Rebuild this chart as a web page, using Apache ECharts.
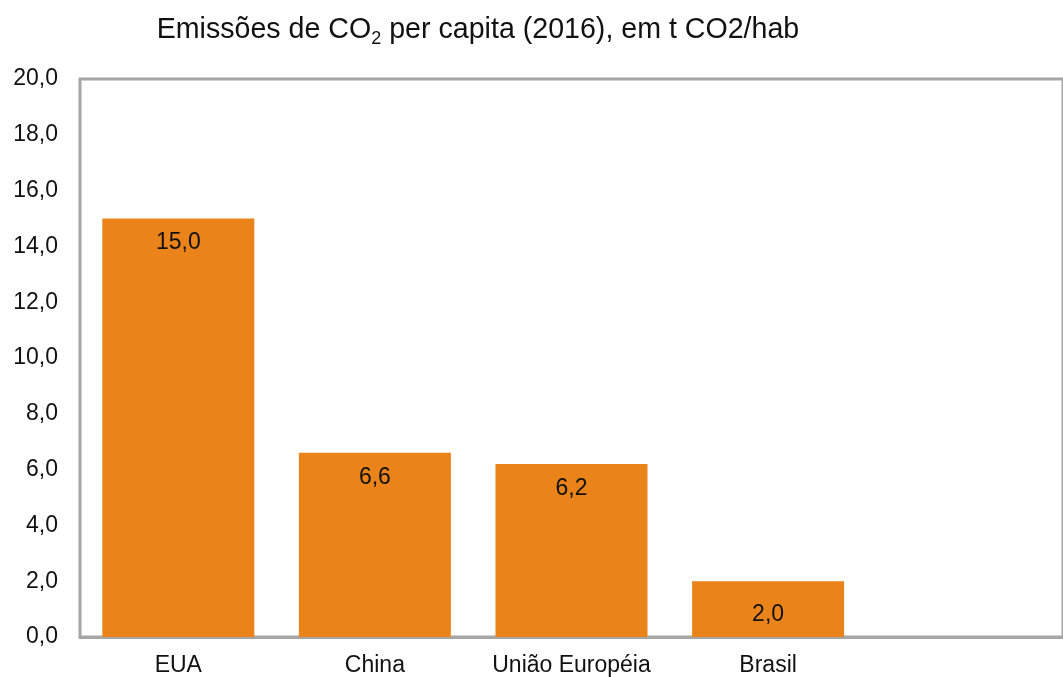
<!DOCTYPE html>
<html>
<head>
<meta charset="utf-8">
<script src="https://cdn.jsdelivr.net/npm/echarts@6/dist/echarts.min.js"></script>
<style>
  html, body { margin: 0; padding: 0; background: #fff; }
  #chart { width: 1063px; height: 677px; }
</style>
</head>
<body>
<div id="chart"></div>
<script>
// Per-capita CO2 emissions, 2016 (t CO2 per inhabitant)
const categories = ['EUA', 'China', 'União Européia', 'Brasil', ''];
const emissions = [15.0, 6.6, 6.2, 2.0, null];
const yTicks = { min: 0, max: 20, step: 2 };

const fmt = v => v.toFixed(1).replace('.', ',');
const FONT = '"Liberation Sans", Arial, sans-serif';

const chart = echarts.init(document.getElementById('chart'));
chart.setOption({
  backgroundColor: '#ffffff',
  animation: false,
  title: {
    text: '{m|Emissões de CO}{s|2}{m| per capita (2016), em t CO2/hab}',
    left: 473,
    textAlign: 'center',
    top: 7,
    textStyle: {
      fontWeight: 'normal',
      rich: {
        m: { fontFamily: FONT, fontSize: 28.6, fontWeight: 'normal', color: '#111', lineHeight: 36, verticalAlign: 'middle' },
        s: { fontFamily: FONT, fontSize: 18, fontWeight: 'normal', color: '#111', lineHeight: 18, verticalAlign: 'bottom' }
      }
    }
  },
  grid: {
    left: 80, top: 79, width: 990, bottom: 40,
    show: true, borderColor: '#a6a6a6', borderWidth: 3, backgroundColor: 'transparent'
  },
  xAxis: {
    type: 'category',
    data: categories,
    axisLine: { show: true, lineStyle: { color: '#a6a6a6', width: 3 } },
    axisTick: { show: false },
    axisLabel: { interval: 0, fontFamily: FONT, fontSize: 23, color: '#111', margin: 17 }
  },
  yAxis: {
    type: 'value',
    min: yTicks.min, max: yTicks.max, interval: yTicks.step,
    axisLine: { show: false },
    axisTick: { show: false },
    splitLine: { show: false },
    axisLabel: { fontFamily: FONT, fontSize: 23, color: '#111', margin: 22, formatter: v => fmt(v) }
  },
  series: [{
    type: 'bar',
    data: emissions.map((v, i) => i === 3
      ? { value: v, label: { distance: 22 } }
      : v),
    barWidth: 152,
    itemStyle: { color: '#EA841A' },
    label: {
      show: true,
      position: 'insideTop',
      distance: 13,
      fontFamily: FONT, fontSize: 23, color: '#111',
      formatter: p => p.value == null ? '' : fmt(p.value)
    }
  }]
});
</script>
</body>
</html>
